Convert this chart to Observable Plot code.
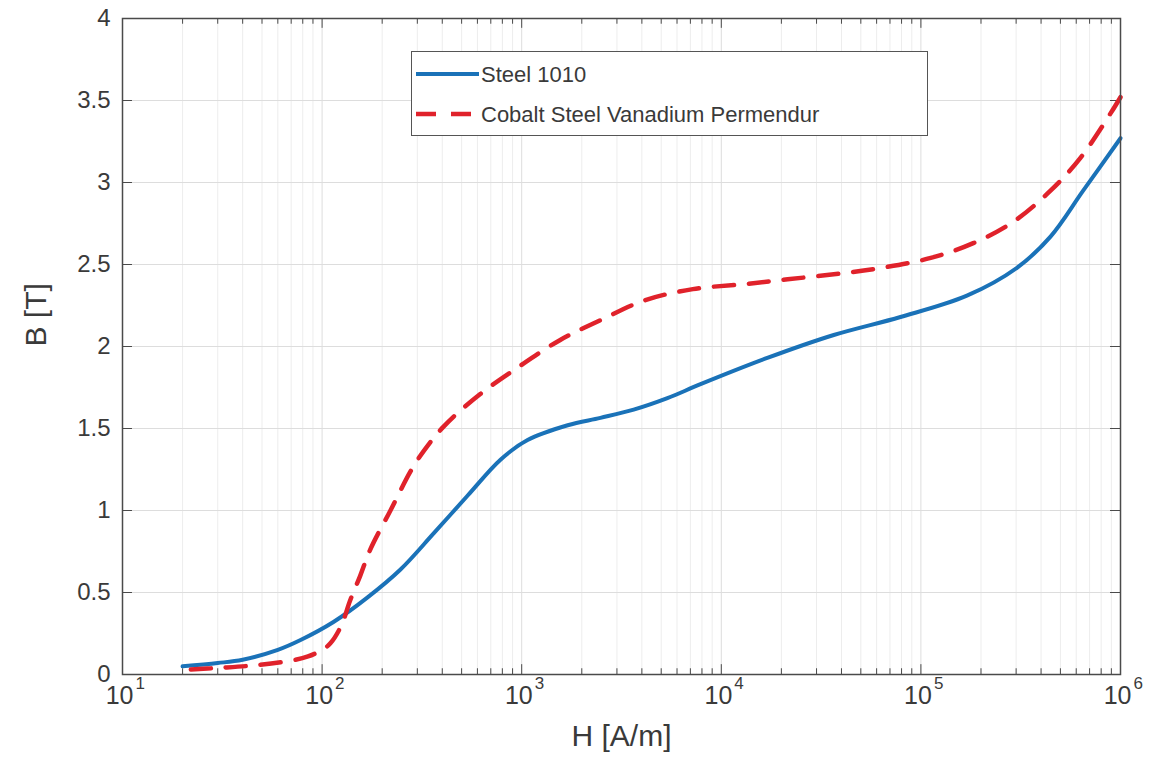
<!DOCTYPE html>
<html>
<head>
<meta charset="utf-8">
<script src="https://cdn.jsdelivr.net/npm/d3@7"></script>
<script src="https://cdn.jsdelivr.net/npm/@observablehq/plot@0.6"></script>
<style>
  body { margin: 0; background: #fff; }
  #wrap { position: relative; width: 1175px; height: 764px; font-family: "Liberation Sans", Arial, sans-serif; }
  #legend { position: absolute; left: 411px; top: 51px; width: 517px; height: 85px; border: 1.5px solid #555; background: #fff; box-sizing: border-box; }
</style>
</head>
<body>
<div id="wrap"></div>
<script>
// ---- data ----
const steelH = [20, 30, 40, 60, 78, 114, 169, 247, 362, 535, 783, 1070, 1700, 2480, 3640, 5370, 7870, 17000, 36600, 79000, 170000, 303000, 446000, 650000, 1000000];
const steelB = [0.05, 0.07, 0.09, 0.15, 0.21, 0.32, 0.47, 0.64, 0.86, 1.09, 1.31, 1.43, 1.52, 1.565, 1.615, 1.685, 1.77, 1.93, 2.07, 2.18, 2.31, 2.48, 2.67, 2.95, 3.27];
const cobaltH = [22, 30, 45, 70, 85, 100, 110, 125, 138, 155, 174, 220, 294, 405, 620, 950, 1560, 2480, 4100, 7200, 13000, 21500, 36600, 64000, 112000, 183000, 290000, 446000, 630000, 890000, 1000000];
const cobaltB = [0.03, 0.04, 0.055, 0.085, 0.11, 0.15, 0.19, 0.3, 0.45, 0.6, 0.76, 1.0, 1.29, 1.51, 1.71, 1.87, 2.04, 2.16, 2.28, 2.35, 2.38, 2.41, 2.44, 2.48, 2.54, 2.63, 2.76, 2.95, 3.15, 3.42, 3.52];
const seriesNames = ["Steel 1010", "Cobalt Steel Vanadium Permendur"];
const xExponents = [1, 2, 3, 4, 5, 6];
const yTicks = [0, 0.5, 1, 1.5, 2, 2.5, 3, 3.5, 4];
const xLabel = "H [A/m]";
const yLabel = "B [T]";

const steel = steelH.map((h, i) => ({H: h, B: steelB[i]}));
const cobalt = cobaltH.map((h, i) => ({H: h, B: cobaltB[i]}));
const majorX = xExponents.map(e => Math.pow(10, e));
const minorX = [];
for (let e = 1; e < 6; e++) for (let m = 2; m <= 9; m++) minorX.push(m * Math.pow(10, e));

const axisColor = "#4a4a4a";
const textColor = "#3a3a3a";
const blue = "#1a72b8";
const red = "#e0222b";
const dash = "20,15";

const chart = Plot.plot({
  width: 1175,
  height: 764,
  marginLeft: 122,
  marginRight: 55,
  marginTop: 18,
  marginBottom: 90,
  style: {fontFamily: "'Liberation Sans', Arial, sans-serif", background: "#fff"},
  x: {type: "log", domain: [10, 1e6], axis: null},
  y: {domain: [0, 4], axis: null},
  marks: [
    // grid
    Plot.ruleX(minorX, {y1: 0, y2: 4, stroke: "#ededed", strokeWidth: 1}),
    Plot.ruleX(majorX, {y1: 0, y2: 4, stroke: "#dddddd", strokeWidth: 1}),
    Plot.ruleY(yTicks, {x1: 10, x2: 1e6, stroke: "#dddddd", strokeWidth: 1}),
    // ticks (inward, all four sides)
    Plot.ruleX(majorX, {y1: 0, y2: 0.06, stroke: axisColor}),
    Plot.ruleX(minorX, {y1: 0, y2: 0.035, stroke: axisColor}),
    Plot.ruleX(majorX, {y1: 4, y2: 3.94, stroke: axisColor}),
    Plot.ruleX(minorX, {y1: 4, y2: 3.965, stroke: axisColor}),
    Plot.ruleY(yTicks, {x1: 10, x2: Math.pow(10, 1.05), stroke: axisColor}),
    Plot.ruleY(yTicks, {x1: 1e6, x2: Math.pow(10, 5.95), stroke: axisColor}),
    // curves
    Plot.line(steel, {x: "H", y: "B", stroke: blue, strokeWidth: 4, curve: "catmull-rom"}),
    Plot.line(cobalt, {x: "H", y: "B", stroke: red, strokeWidth: 4.5, strokeDasharray: dash, curve: "catmull-rom"}),
    // frame
    Plot.frame({stroke: axisColor, strokeWidth: 1.5}),
    // y tick labels
    Plot.text(yTicks, {x: 10, y: d => d, text: d => String(d), textAnchor: "end", dx: -12, fontSize: 24, fill: textColor}),
    // x tick labels: base and exponent
    Plot.text(majorX, {x: d => d, y: 0, text: () => "10", textAnchor: "end", dx: 11, dy: 21, fontSize: 25, fill: textColor}),
    Plot.text(xExponents, {x: d => Math.pow(10, d), y: 0, text: d => String(d), textAnchor: "start", dx: 13, dy: 9, fontSize: 17, fill: textColor}),
    // axis labels
    Plot.text([xLabel], {frameAnchor: "bottom", text: d => d, dy: 71, fontSize: 30, fill: textColor}),
    Plot.text([yLabel], {frameAnchor: "left", text: d => d, dx: -86, rotate: -90, fontSize: 30, fill: textColor})
  ]
});

const wrap = document.getElementById("wrap");
wrap.appendChild(chart);

// legend
const legend = document.createElement("div");
legend.id = "legend";
legend.innerHTML = `
<svg width="517" height="85" style="display:block">
  <line x1="4" x2="67" y1="22" y2="22" stroke="${blue}" stroke-width="4"/>
  <text x="69" y="22" dominant-baseline="central" font-size="22" fill="${textColor}" font-family="Liberation Sans, Arial, sans-serif">${seriesNames[0]}</text>
  <line x1="4" x2="67" y1="62" y2="62" stroke="${red}" stroke-width="4.5" stroke-dasharray="${dash}"/>
  <text x="69" y="62" dominant-baseline="central" font-size="22" fill="${textColor}" font-family="Liberation Sans, Arial, sans-serif">${seriesNames[1]}</text>
</svg>`;
wrap.appendChild(legend);
</script>
</body>
</html>
